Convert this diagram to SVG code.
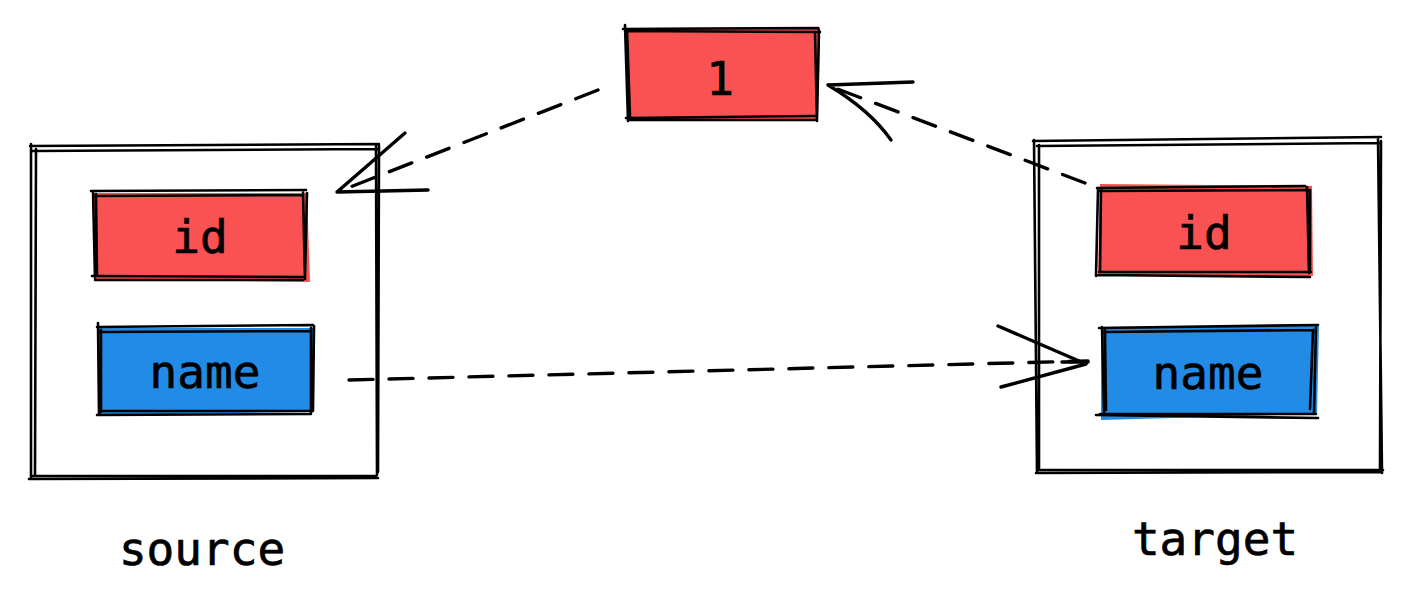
<svg xmlns="http://www.w3.org/2000/svg" width="1412" height="607" viewBox="0 0 1412 607">
<style>
.s{fill:none;stroke:#000;stroke-width:2.6;stroke-linecap:round;stroke-linejoin:round}
.t{font-family:"DejaVu Sans Mono","Liberation Mono",monospace;font-size:46px;fill:#000;stroke:#000;stroke-width:0.7;text-anchor:middle}
.d{fill:none;stroke:#000;stroke-width:3.4;stroke-linecap:round;stroke-dasharray:24 16}
.a{fill:none;stroke:#000;stroke-width:3.4;stroke-linecap:round;stroke-linejoin:round}
.red{fill:#fa5252}
.blue{fill:#228be6}
</style>
<rect width="1412" height="607" fill="#fff"/>
<g id="source">
<path class="s" d="M30 146 L379 144 M32 151 L377 149 M31 144 L31 478 M36 149 L35 476 M376 146 L377 475 M379 146 L378 472 M29 479 L378 478 M33 476 L376 476"/>
<text class="t" x="202" y="565">source</text>
</g>
<g id="source-id">
<path class="red" d="M94 193 L307 193 L310 282 L95 279 Z"/>
<path class="s" d="M91 191 L306 190 M95 196 L303 195 M93 191 L95 278 M96 194 L97 275 M303 192 L305 279 M307 193 L305 276 M95 280 L303 280 M92 276 L305 277"/>
<text class="t" x="200" y="253">id</text>
</g>
<g id="source-name">
<path class="blue" d="M99 328 L314 328 L314 412 L99 415 Z"/>
<path class="s" d="M97 327 L313 325 M100 332 L311 331 M98 323 L99 414 M101 330 L101 412 M311 328 L311 413 M314 326 L313 410 M97 415 L311 414 M99 411 L313 411"/>
<text class="t" x="205" y="388">name</text>
</g>
<g id="one">
<path class="red" d="M627 28 L820 27 L818 120 L628 119 Z"/>
<path class="s" d="M623 29 L818 28 M627 31 L820 32 M625 25 L628 121 M627 30 L630 117 M815 32 L817 121 M819 30 L817 118 M626 118 L815 116 M629 120 L817 120"/>
<text class="t" x="720" y="95">1</text>
</g>
<g id="target">
<path class="s" d="M1033 141 L1381 137 M1037 146 L1380 143 M1034 140 L1037 472 M1039 145 L1039 468 M1378 138 L1382 473 M1381 141 L1380 470 M1036 473 L1381 472 M1039 470 L1383 470"/>
<text class="t" x="1215" y="555">target</text>
</g>
<g id="target-id">
<path class="red" d="M1100 184 L1312 186 L1313 276 L1098 275 Z"/>
<path class="s" d="M1097 188 L1305 186 M1100 191 L1310 190 M1098 189 L1096 276 M1101 189 L1100 272 M1307 187 L1309 273 M1310 190 L1310 271 M1097 275 L1310 277 M1099 272 L1311 272"/>
<text class="t" x="1204" y="249">id</text>
</g>
<g id="target-name">
<path class="blue" d="M1101 327 L1319 325 L1317 414 L1101 420 Z"/>
<path class="s" d="M1099 328 L1318 325 M1103 332 L1316 330 M1102 327 L1104 412 M1105 330 L1106 410 M1313 330 L1310 409 M1316 326 L1314 413 M1096 415 L1318 418 M1100 414 L1316 414"/>
<text class="t" x="1208" y="389">name</text>
</g>
<g id="connectors">
<path class="d" d="M598 90 L340 191"/>
<path class="a" d="M337 192 L405 133 M337 192 L428 190"/>
<path class="d" d="M1085 183 L835 88"/>
<path class="a" d="M828 85 L913 82 M828 85 Q870 110 891 140"/>
<path class="d" d="M349 380 L1088 361"/>
<path class="a" d="M998 326 L1086 364 L1001 387 M1062 362 L1088 362"/>
</g>
</svg>
